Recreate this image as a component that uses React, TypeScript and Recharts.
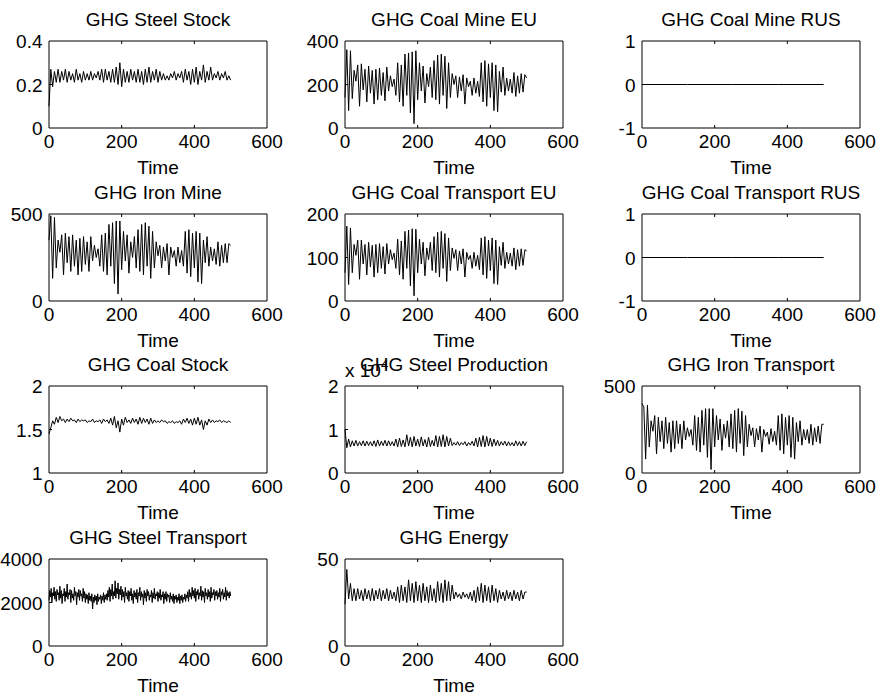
import { LineChart, Line, XAxis, YAxis } from 'recharts'

const FONT = '"Liberation Sans", Arial, Helvetica, sans-serif'

// time axis
const TIME_TICKS = [0, 200, 400, 600]

// GHG Steel Stock, t = 0..500 step 5
const steelStock = [
  0.10, 0.27, 0.19, 0.26, 0.21, 0.27, 0.21, 0.26, 0.22, 0.27,
  0.21, 0.26, 0.22, 0.25, 0.21, 0.27, 0.22, 0.25, 0.21, 0.26,
  0.22, 0.25, 0.22, 0.26, 0.22, 0.25, 0.23, 0.26, 0.22, 0.27,
  0.21, 0.27, 0.22, 0.26, 0.21, 0.27, 0.21, 0.28, 0.20, 0.30,
  0.19, 0.27, 0.21, 0.26, 0.21, 0.27, 0.22, 0.26, 0.21, 0.27,
  0.21, 0.26, 0.20, 0.27, 0.21, 0.28, 0.21, 0.26, 0.22, 0.27,
  0.21, 0.26, 0.22, 0.25, 0.22, 0.24, 0.22, 0.25, 0.23, 0.26,
  0.22, 0.25, 0.23, 0.26, 0.21, 0.27, 0.22, 0.26, 0.20, 0.27,
  0.21, 0.28, 0.20, 0.26, 0.22, 0.29, 0.21, 0.26, 0.22, 0.28,
  0.22, 0.25, 0.23, 0.26, 0.22, 0.25, 0.23, 0.26, 0.22, 0.24,
  0.22,
]

// GHG Coal Mine EU
const coalMineEU = [
  140, 360, 80, 355, 135, 265, 215, 290, 100, 295,
  175, 270, 120, 285, 160, 265, 110, 270, 130, 275,
  150, 255, 125, 280, 170, 240, 190, 225, 150, 300,
  120, 290, 100, 340, 150, 345, 70, 350, 20, 355,
  130, 300, 170, 285, 115, 250, 190, 280, 140, 310,
  130, 335, 110, 340, 150, 330, 90, 300, 140, 250,
  200, 240, 140, 235, 170, 245, 110, 230, 190, 215,
  150, 230, 160, 215, 145, 300, 120, 310, 100, 295,
  140, 300, 80, 290, 75, 260, 165, 280, 150, 230,
  170, 225, 160, 255, 145, 240, 160, 250, 165, 245,
  230,
]

// GHG Coal Mine RUS / GHG Coal Transport RUS
const coalMineRUS = [0, 0, 0, 0, 0]
const coalTransportRUS = [0, 0, 0, 0, 0]

// GHG Iron Mine
const ironMine = [
  350, 490, 130, 480, 190, 350, 280, 380, 150, 390,
  220, 370, 170, 380, 200, 350, 150, 360, 170, 370,
  210, 340, 170, 370, 230, 320, 250, 300, 200, 380,
  170, 390, 150, 440, 200, 450, 100, 460, 40, 460,
  180, 400, 230, 380, 160, 340, 250, 370, 190, 410,
  170, 440, 150, 450, 200, 430, 130, 400, 190, 340,
  260, 320, 190, 310, 230, 330, 150, 310, 250, 290,
  200, 310, 220, 290, 200, 400, 160, 410, 140, 390,
  190, 400, 110, 390, 100, 350, 220, 370, 200, 310,
  230, 300, 210, 340, 200, 320, 220, 330, 220, 330,
  320,
]

// GHG Coal Transport EU
const coalTransportEU = [
  65, 172, 38, 168, 65, 130, 105, 140, 50, 140,
  85, 130, 60, 135, 78, 128, 55, 130, 65, 132,
  75, 125, 62, 132, 85, 118, 95, 110, 75, 142,
  60, 138, 50, 160, 75, 163, 35, 166, 12, 165,
  65, 142, 85, 135, 58, 122, 95, 135, 70, 148,
  65, 158, 55, 160, 75, 155, 45, 145, 70, 122,
  98, 118, 70, 115, 85, 120, 55, 112, 95, 105,
  75, 112, 80, 105, 72, 145, 60, 148, 52, 140,
  70, 145, 40, 140, 38, 125, 82, 135, 75, 112,
  85, 110, 80, 122, 72, 118, 80, 120, 82, 118,
  115,
]

// GHG Coal Stock
const coalStock = [
  1.45, 1.52, 1.60, 1.56, 1.64, 1.58, 1.65, 1.60, 1.62, 1.58,
  1.62, 1.59, 1.63, 1.60, 1.61, 1.58, 1.62, 1.59, 1.61, 1.60,
  1.61, 1.58, 1.60, 1.59, 1.62, 1.58, 1.60, 1.59, 1.61, 1.57,
  1.62, 1.59, 1.61, 1.57, 1.63, 1.55, 1.65, 1.52, 1.60, 1.47,
  1.62, 1.55, 1.64, 1.58, 1.61, 1.57, 1.63, 1.58, 1.62, 1.56,
  1.64, 1.57, 1.63, 1.58, 1.62, 1.56, 1.63, 1.57, 1.61, 1.58,
  1.60, 1.58, 1.61, 1.59, 1.60, 1.57, 1.59, 1.58, 1.60, 1.57,
  1.59, 1.58, 1.60, 1.56, 1.62, 1.58, 1.63, 1.57, 1.62, 1.55,
  1.63, 1.56, 1.64, 1.55, 1.61, 1.50, 1.60, 1.55, 1.62, 1.58,
  1.61, 1.58, 1.60, 1.59, 1.61, 1.58, 1.60, 1.59, 1.58, 1.60,
  1.58,
]

// GHG Steel Production (x 10^4)
const steelProduction = [
  1.00, 0.58, 0.78, 0.60, 0.74, 0.62, 0.75, 0.62, 0.72, 0.63,
  0.74, 0.62, 0.73, 0.63, 0.72, 0.62, 0.74, 0.61, 0.76, 0.62,
  0.73, 0.63, 0.75, 0.62, 0.74, 0.63, 0.72, 0.62, 0.78, 0.60,
  0.80, 0.61, 0.76, 0.60, 0.88, 0.62, 0.82, 0.60, 0.84, 0.62,
  0.78, 0.61, 0.83, 0.62, 0.77, 0.60, 0.82, 0.61, 0.75, 0.62,
  0.86, 0.60, 0.84, 0.61, 0.88, 0.60, 0.84, 0.62, 0.80, 0.63,
  0.70, 0.64, 0.72, 0.63, 0.70, 0.65, 0.72, 0.62, 0.70, 0.64,
  0.73, 0.62, 0.80, 0.60, 0.82, 0.61, 0.86, 0.60, 0.84, 0.62,
  0.80, 0.61, 0.78, 0.63, 0.75, 0.62, 0.72, 0.64, 0.73, 0.62,
  0.72, 0.63, 0.70, 0.62, 0.74, 0.63, 0.72, 0.62, 0.73, 0.63,
  0.72,
]

// GHG Iron Transport
const ironTransport = [
  400, 380, 80, 390, 150, 300, 240, 330, 110, 320,
  180, 300, 140, 320, 170, 290, 120, 300, 140, 300,
  170, 280, 140, 300, 190, 260, 210, 250, 160, 330,
  130, 320, 120, 360, 160, 370, 90, 370, 20, 370,
  150, 330, 190, 310, 130, 280, 200, 300, 150, 340,
  140, 360, 120, 370, 170, 355, 100, 330, 150, 280,
  215, 260, 150, 255, 190, 270, 120, 250, 210, 235,
  165, 255, 180, 240, 160, 330, 130, 340, 110, 320,
  160, 330, 90, 320, 80, 290, 180, 300, 160, 250,
  190, 250, 170, 280, 160, 260, 180, 270, 170, 280,
  280,
]

// GHG Steel Transport, t = 0..500 step 2
const steelTransport = [
  2100, 2550, 2250, 2650, 2000, 2450, 2300, 2700, 2150, 2500,
  2050, 2600, 2350, 2450, 2100, 2750, 2200, 2550, 1950, 2400,
  2300, 2650, 2050, 2500, 2250, 2850, 2150, 2450, 2350, 2600,
  2000, 2550, 2200, 2400, 2100, 2700, 2300, 2500, 1900, 2450,
  2250, 2600, 2100, 2550, 2300, 2400, 2050, 2650, 2200, 2500,
  2000, 2400, 2150, 2350, 1950, 2450, 2100, 2300, 2050, 2400,
  1700, 2250, 2000, 2350, 2100, 2300, 1900, 2400, 2050, 2250,
  2150, 2350, 1950, 2300, 2100, 2450, 2000, 2350, 2150, 2400,
  2100, 2550, 2250, 2700, 2050, 2600, 2300, 2850, 2150, 2500,
  2300, 3000, 2200, 2650, 2400, 2900, 2150, 2600, 2350, 2750,
  2100, 2600, 2250, 2500, 2000, 2700, 2300, 2450, 2150, 2550,
  2050, 2500, 2300, 2650, 2100, 2400, 1950, 2550, 2250, 2450,
  2150, 2600, 2000, 2450, 2300, 2700, 2100, 2500, 2250, 2400,
  1900, 2550, 2200, 2450, 2050, 2600, 2300, 2500, 2100, 2350,
  2250, 2550, 2000, 2450, 2200, 2650, 2150, 2400, 2300, 2500,
  2050, 2450, 2200, 2600, 2100, 2350, 2250, 2500, 1950, 2400,
  2150, 2500, 2050, 2400, 2250, 2350, 2000, 2450, 2150, 2300,
  2050, 2400, 1950, 2300, 2150, 2350, 2000, 2250, 2100, 2400,
  1950, 2300, 2100, 2350, 2000, 2250, 2150, 2400, 2050, 2350,
  2200, 2500, 2050, 2600, 2250, 2450, 2150, 2700, 2300, 2550,
  2200, 2650, 2050, 2500, 2350, 2600, 2150, 2450, 2300, 2750,
  2100, 2550, 2250, 2500, 2000, 2650, 2300, 2450, 2150, 2600,
  2250, 2500, 2050, 2700, 2200, 2450, 2350, 2600, 2100, 2500,
  2300, 2550, 2150, 2450, 2250, 2650, 2050, 2500, 2350, 2600,
  2150, 2450, 2250, 2700, 2100, 2550, 2300, 2450, 2200, 2500,
  2300,
]

// GHG Energy
const energy = [
  24, 44, 27, 36, 26, 33, 26, 33, 27, 32,
  26, 33, 27, 32, 26, 33, 26, 32, 27, 33,
  26, 32, 27, 33, 26, 32, 27, 31, 26, 34,
  25, 35, 26, 34, 25, 38, 26, 36, 25, 37,
  26, 35, 25, 36, 26, 34, 25, 35, 26, 33,
  25, 37, 26, 36, 25, 38, 26, 37, 26, 35,
  27, 31, 28, 30, 27, 31, 28, 30, 27, 31,
  26, 32, 25, 34, 26, 36, 25, 35, 26, 34,
  25, 35, 26, 33, 25, 32, 27, 31, 26, 32,
  27, 31, 26, 32, 27, 31, 26, 32, 27, 31,
  31,
]

// the simulation runs over t = 0..500
const toRows = (vals: number[]) =>
  vals.map((v, i) => ({ t: (i * 500) / (vals.length - 1), v }))

// plot box size and chart margins
const PW = 218
const PH = 87
const ML = 70
const MR = 25
const MT = 15
const MB = 30
const AX = 1 // axis band size (kept tiny so the box sits where the margins say)
const TL = 3 // inward tick length

const txt = { fontSize: 19, fontFamily: FONT, fill: '#000' }

function BottomTick(props: any) {
  const { x, y, payload } = props
  const v = payload.value
  return (
    <g>
      {v !== 0 && v !== 600 && <line x1={x} y1={y} x2={x} y2={y - TL} stroke="#000" />}
      <text x={x} y={y + 20} textAnchor="middle" {...txt}>{v}</text>
    </g>
  )
}

function TopTick(props: any) {
  const { x, y, payload } = props
  const v = payload.value
  if (v === 0 || v === 600) return <g />
  return <line x1={x} y1={y} x2={x} y2={y + TL} stroke="#000" />
}

function makeLeftTick(lo: number, hi: number) {
  return (props: any) => {
    const { x, y, payload } = props
    const v = payload.value
    return (
      <g>
        {v !== lo && v !== hi && <line x1={x} y1={y} x2={x + TL} y2={y} stroke="#000" />}
        <text x={x - 6.5} y={y + 7} textAnchor="end" {...txt}>{String(v)}</text>
      </g>
    )
  }
}

function makeRightTick(lo: number, hi: number) {
  return (props: any) => {
    const { x, y, payload } = props
    const v = payload.value
    if (v === lo || v === hi) return <g />
    return <line x1={x} y1={y} x2={x - TL} y2={y} stroke="#000" />
  }
}

interface PanelProps {
  left: number
  top: number
  values: number[]
  domain: [number, number]
  yTicks: number[]
}

function Panel({ left, top, values, domain, yTicks }: PanelProps) {
  const data = toRows(values)
  const [lo, hi] = domain
  const axisLine = { stroke: '#000', strokeWidth: 1 }
  return (
    <div style={{ position: 'absolute', left: left - ML, top: top - MT }}>
      <LineChart
        width={PW + ML + MR}
        height={PH + MT + MB}
        data={data}
        margin={{ top: MT - AX, right: MR - AX, bottom: MB - AX, left: ML - AX }}
      >
        <XAxis
          dataKey="t"
          type="number"
          domain={[0, 600]}
          ticks={TIME_TICKS}
          interval={0}
          height={AX}
          tickSize={0}
          tickMargin={0}
          tickLine={false}
          axisLine={axisLine}
          tick={(p: any) => <BottomTick {...p} />}
        />
        <XAxis
          xAxisId="top"
          orientation="top"
          dataKey="t"
          type="number"
          domain={[0, 600]}
          ticks={TIME_TICKS}
          interval={0}
          height={AX}
          tickSize={0}
          tickMargin={0}
          tickLine={false}
          axisLine={axisLine}
          tick={(p: any) => <TopTick {...p} />}
        />
        <YAxis
          type="number"
          domain={domain}
          ticks={yTicks}
          interval={0}
          width={AX}
          tickSize={0}
          tickMargin={0}
          tickLine={false}
          axisLine={axisLine}
          tick={makeLeftTick(lo, hi)}
        />
        <YAxis
          yAxisId="r"
          orientation="right"
          type="number"
          domain={domain}
          ticks={yTicks}
          interval={0}
          width={AX}
          tickSize={0}
          tickMargin={0}
          tickLine={false}
          axisLine={axisLine}
          tick={makeRightTick(lo, hi)}
        />
        <Line
          type="linear"
          dataKey="v"
          stroke="#000"
          strokeWidth={1}
          dot={false}
          isAnimationActive={false}
        />
      </LineChart>
    </div>
  )
}

const COLS = [49, 345, 642]
const ROWS = [41, 214, 386, 559]

const panels = [
  { title: 'GHG Steel Stock', c: 0, r: 0, values: steelStock, domain: [0, 0.4], yTicks: [0, 0.2, 0.4] },
  { title: 'GHG Coal Mine EU', c: 1, r: 0, values: coalMineEU, domain: [0, 400], yTicks: [0, 200, 400] },
  { title: 'GHG Coal Mine RUS', c: 2, r: 0, values: coalMineRUS, domain: [-1, 1], yTicks: [-1, 0, 1] },
  { title: 'GHG Iron Mine', c: 0, r: 1, values: ironMine, domain: [0, 500], yTicks: [0, 500] },
  { title: 'GHG Coal Transport EU', c: 1, r: 1, values: coalTransportEU, domain: [0, 200], yTicks: [0, 100, 200] },
  { title: 'GHG Coal Transport RUS', c: 2, r: 1, values: coalTransportRUS, domain: [-1, 1], yTicks: [-1, 0, 1] },
  { title: 'GHG Coal Stock', c: 0, r: 2, values: coalStock, domain: [1, 2], yTicks: [1, 1.5, 2] },
  { title: 'GHG Steel Production', c: 1, r: 2, values: steelProduction, domain: [0, 2], yTicks: [0, 1, 2] },
  { title: 'GHG Iron Transport', c: 2, r: 2, values: ironTransport, domain: [0, 500], yTicks: [0, 500] },
  { title: 'GHG Steel Transport', c: 0, r: 3, values: steelTransport, domain: [0, 4000], yTicks: [0, 2000, 4000] },
  { title: 'GHG Energy', c: 1, r: 3, values: energy, domain: [0, 50], yTicks: [0, 50] },
]

export default function App() {
  return (
    <div style={{ position: 'absolute', left: 0, top: 0, width: 878, height: 699, background: '#fff', overflow: 'hidden' }}>
      {panels.map((p) => (
        <Panel
          key={p.title}
          left={COLS[p.c]}
          top={ROWS[p.r]}
          values={p.values}
          domain={p.domain as [number, number]}
          yTicks={p.yTicks}
        />
      ))}
      <svg width={878} height={699} style={{ position: 'absolute', left: 0, top: 0, pointerEvents: 'none' }}>
        {panels.map((p) => {
          const cx = COLS[p.c] + PW / 2
          const top = ROWS[p.r]
          return (
            <g key={p.title}>
              <text x={cx} y={top - 15} textAnchor="middle" {...txt}>{p.title}</text>
              <text x={cx} y={top + PH + 46} textAnchor="middle" {...txt}>Time</text>
            </g>
          )
        })}
        {/* exponent label of the Steel Production axis */}
        <text x={COLS[1]} y={ROWS[2] - 9} {...txt}>
          x 10
          <tspan fontSize={13} dy={-8}>4</tspan>
        </text>
      </svg>
    </div>
  )
}
